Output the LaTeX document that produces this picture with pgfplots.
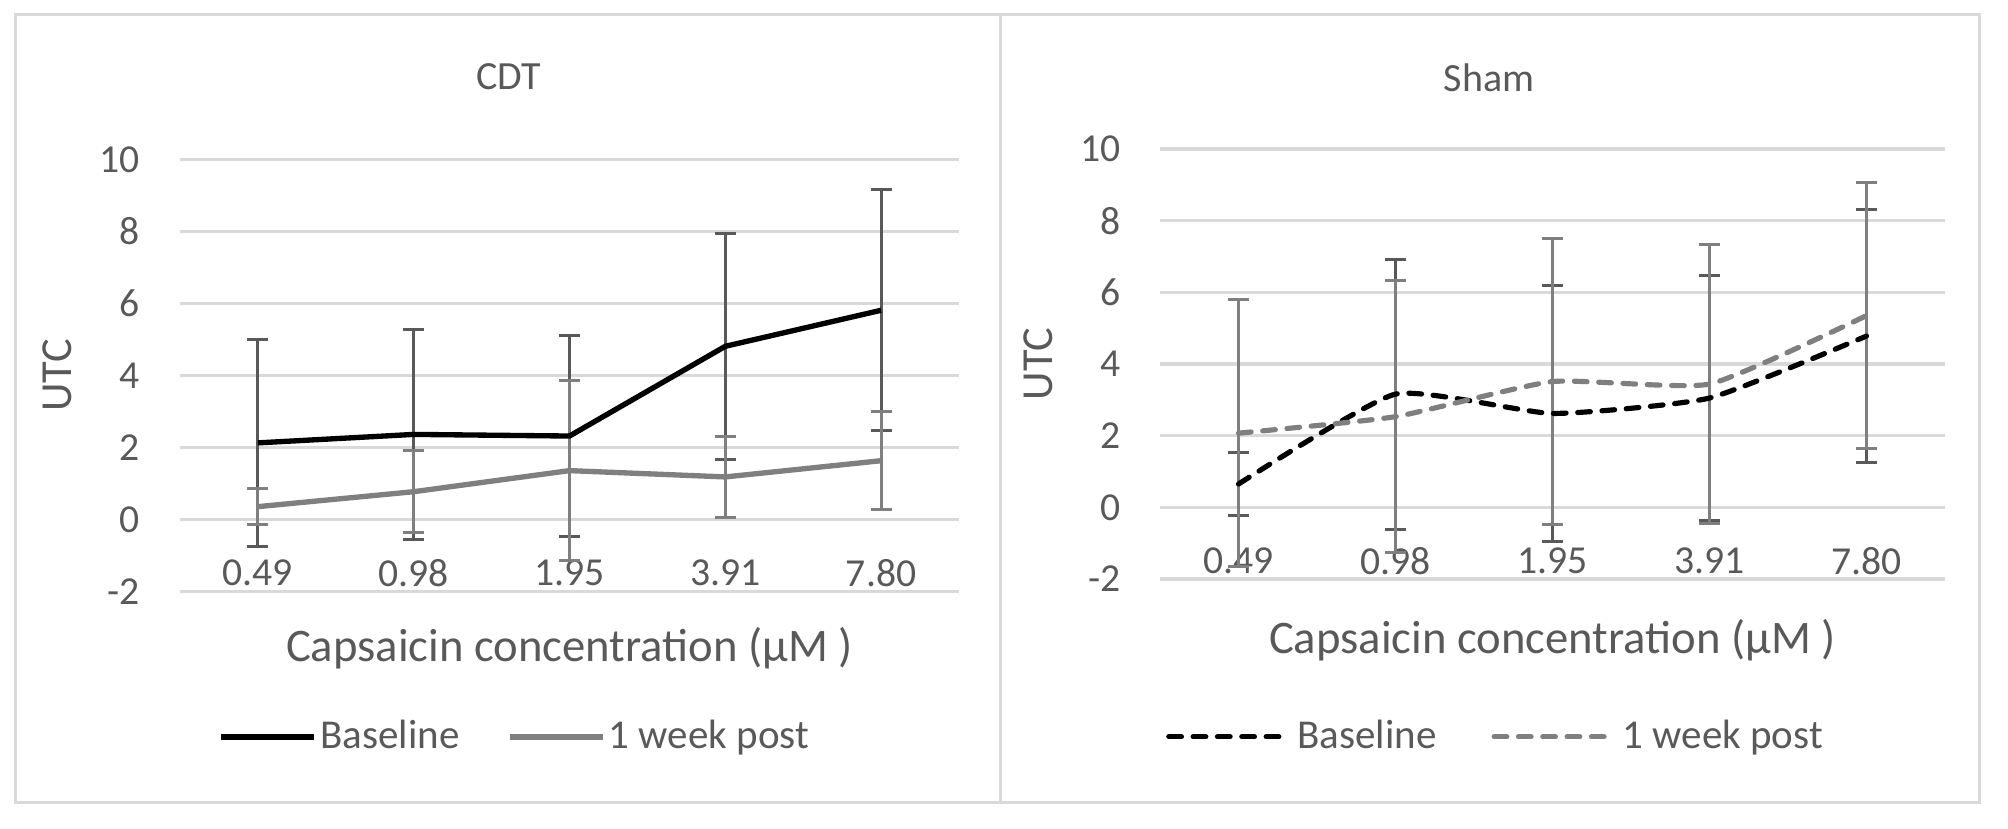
\documentclass[border=0pt]{standalone}
\usepackage{fontspec}
\setmainfont{Carlito}
\usepackage{pgfplots}
\usepackage{pgfplotstable}
\pgfplotsset{compat=1.18}
\definecolor{txt}{HTML}{595959}
\definecolor{gridc}{HTML}{D9D9D9}
\definecolor{lgray}{HTML}{7F7F7F}
\definecolor{dgray}{HTML}{595959}

% CDT
\pgfplotstableread{
x y e
0 2.13 2.87
1 2.365 2.925
2 2.32 2.78
3 4.81 3.13
4 5.81 3.34
}\cdtbase
\pgfplotstableread{
x y e
0 0.36 0.50
1 0.775 1.145
2 1.36 2.49
3 1.185 1.135
4 1.635 1.355
}\cdtweek
% Sham
\pgfplotstableread{
x y e
0 0.65 0.87
1 3.16 3.77
2 2.62 3.56
3 3.05 3.42
4 4.78 3.53
}\shambase
\pgfplotstableread{
x y e
0 2.07 3.72
1 2.53 3.79
2 3.51 3.98
3 3.44 3.90
4 5.35 3.72
}\shamweek

\pgfplotsset{excel/.style={
  scale only axis, clip=false,
  ymin=-2, ymax=10, xmin=-0.5, xmax=4.5,
  ytick={-2,0,2,4,6,8,10}, yticklabels={-2,0,2,4,6,8,10},
  xtick={0,1,2,3,4}, xticklabels={0.49,0.98,1.95,3.91,7.80},
  axis line style={draw=none}, major tick length=0pt,
  ymajorgrids, grid style={draw=gridc, line width=1pt},
  tick label style={font=\fontsize{11.9}{14}\selectfont, text=txt},
  yticklabel style={anchor=east, inner sep=0pt},
  xticklabel style={anchor=center, inner sep=0pt},
  every axis title shift=0pt,
  title style={font=\fontsize{12}{14}\selectfont, text=txt, anchor=center},
  xlabel style={font=\fontsize{14}{16}\selectfont, text=txt, anchor=center},
  ylabel style={font=\fontsize{13.3}{16}\selectfont, text=txt, anchor=center},
  legend columns=2,
  legend cell align=left,
},
errb/.style={forget plot, draw=none, mark=none,
  error bars/.cd, y dir=both, y explicit, error mark=|,
  error bar style={draw=#1, line width=0.9pt, solid},
  error mark options={draw=#1, line width=0.9pt, mark size=3.15pt, solid}},
}

\begin{document}
\begin{tikzpicture}
\path[use as bounding box] (0pt,0pt) rectangle (602.4pt,248.7pt);
\draw[gridc, line width=0.9pt] (4.5pt,7.8pt) rectangle (300pt,244.2pt);
\draw[gridc, line width=0.9pt] (300pt,7.8pt) rectangle (593.7pt,244.2pt);

\begin{axis}[excel, at={(54pt,71.19pt)}, anchor=south west,
  width=233.7pt, height=129.72pt,
  yticklabel style={xshift=-12pt},
  xticklabel style={yshift=5.6pt},
  title={CDT}, title style={at={(axis description cs:0.4223,1.19)}},
  xlabel={Capsaicin concentration (μM )},
  xlabel style={at={(axis description cs:0.5,-0.130)}},
  ylabel={UTC},
  ylabel style={at={(axis description cs:-0.158,0.5)}},
  legend style={draw=none, fill=none, at={(axis description cs:0.4307,-0.336)}, anchor=center,
    font=\fontsize{12.3}{14}\selectfont, text=txt, inner sep=0pt,
    nodes={inner xsep=1.05pt, inner ysep=0pt},
    /tikz/every even column/.append style={column sep=13.2pt}},
  legend image code/.code={\draw[#1] (0pt,0pt) -- (27.9pt,0pt);},
]
\addplot[errb=dgray] table[x=x,y=y,y error=e] {\cdtbase};
\addplot[errb=lgray] table[x=x,y=y,y error=e] {\cdtweek};
\addplot[black, line width=1.6pt, mark=none] table[x=x,y=y] {\cdtbase};
\addlegendentry{Baseline}
\addplot[lgray, line width=1.6pt, mark=none] table[x=x,y=y] {\cdtweek};
\addlegendentry{1 week post}
\end{axis}

\begin{axis}[excel, at={(348pt,75pt)}, anchor=south west,
  width=235.5pt, height=129pt,
  yticklabel style={xshift=-11.7pt},
  xticklabel style={yshift=5.4pt},
  title={Sham}, title style={at={(axis description cs:0.419,1.165)}},
  xlabel={Capsaicin concentration (μM )},
  xlabel style={at={(axis description cs:0.5,-0.142)}},
  ylabel={UTC},
  ylabel style={at={(axis description cs:-0.1545,0.5)}},
  legend style={draw=none, fill=none, at={(axis description cs:0.43,-0.367)}, anchor=center,
    font=\fontsize{12.3}{14}\selectfont, text=txt, inner sep=0pt,
    nodes={inner xsep=1.8pt, inner ysep=0pt},
    /tikz/every even column/.append style={column sep=14.7pt}},
  legend image code/.code={\draw[#1] (0pt,0pt) -- (36pt,0pt);},
]
\addplot[errb=dgray] table[x=x,y=y,y error=e] {\shambase};
\addplot[errb=lgray] table[x=x,y=y,y error=e] {\shamweek};
\addplot[black, line width=1.55pt, mark=none, smooth, tension=0.3, line cap=round, dash pattern=on 3.8pt off 3.5pt] table[x=x,y=y] {\shambase};
\addlegendentry{Baseline}
\addplot[lgray, line width=1.55pt, mark=none, smooth, tension=0.3, line cap=round, dash pattern=on 3.8pt off 3.5pt] table[x=x,y=y] {\shamweek};
\addlegendentry{1 week post}
\end{axis}
\end{tikzpicture}
\end{document}
